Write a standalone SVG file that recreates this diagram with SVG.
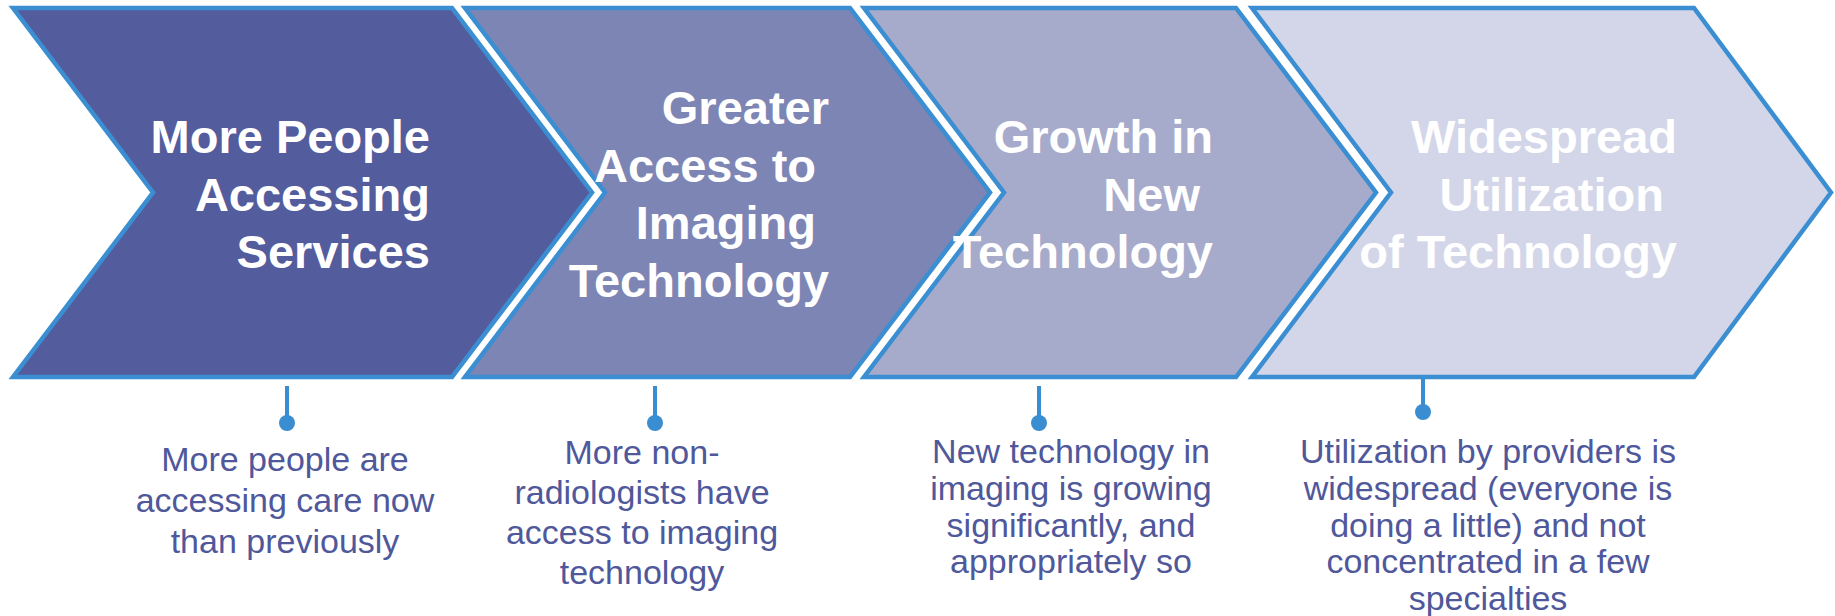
<svg xmlns="http://www.w3.org/2000/svg" width="1835" height="616" viewBox="0 0 1835 616">
<style>
.chev{stroke:#3a8ed1;stroke-width:4.5;stroke-linejoin:miter}
.title{font-family:"Liberation Sans",Arial,sans-serif;font-weight:bold;font-size:47px;fill:#ffffff;text-anchor:end}
.desc{font-family:"Liberation Sans",Arial,sans-serif;font-size:34px;fill:#4f589b;text-anchor:middle}
.conn line{stroke:#3a8dd0;stroke-width:4}
.conn circle{fill:#3a8dd0}
</style>
<rect width="1835" height="616" fill="#ffffff"/>
<g id="step1">
<polygon class="chev" fill="#535c9d" points="13,8 452,8 592,192.5 452,377 13,377 153,192.5"/>
<text class="title"><tspan x="430" y="153">More People</tspan><tspan x="430" y="211">Accessing</tspan><tspan x="430" y="268">Services</tspan></text>
</g>
<g id="step2">
<polygon class="chev" fill="#7d85b5" points="465,8 850,8 990,192.5 850,377 465,377 605,192.5"/>
<text class="title"><tspan x="829" y="124">Greater</tspan><tspan x="816" y="182">Access to</tspan><tspan x="816" y="239">Imaging</tspan><tspan x="829" y="297">Technology</tspan></text>
</g>
<g id="step3">
<polygon class="chev" fill="#a7abcb" points="864,8 1236,8 1376,192.5 1236,377 864,377 1004,192.5"/>
<text class="title"><tspan x="1213" y="153">Growth in</tspan><tspan x="1200" y="211">New</tspan><tspan x="1213" y="268">Technology</tspan></text>
</g>
<g id="step4">
<polygon class="chev" fill="#d3d6e8" points="1252,8 1694,8 1831,192.5 1694,377 1252,377 1391,192.5"/>
<text class="title"><tspan x="1677" y="153">Widespread</tspan><tspan x="1664" y="211">Utilization</tspan><tspan x="1677" y="268">of Technology</tspan></text>
</g>
<g id="connectors" class="conn">
<line x1="287" y1="386" x2="287" y2="423"/><circle cx="287" cy="423" r="8"/>
<line x1="655" y1="386" x2="655" y2="423"/><circle cx="655" cy="423" r="8"/>
<line x1="1039" y1="386" x2="1039" y2="423"/><circle cx="1039" cy="423" r="8"/>
<line x1="1423" y1="379" x2="1423" y2="412"/><circle cx="1423" cy="412" r="8"/>
</g>
<g id="desc1">
<text class="desc"><tspan x="285" y="471">More people are</tspan><tspan x="285" y="512">accessing care now</tspan><tspan x="285" y="553">than previously</tspan></text>
</g>
<g id="desc2">
<text class="desc"><tspan x="642" y="464">More non-</tspan><tspan x="642" y="504">radiologists have</tspan><tspan x="642" y="544">access to imaging</tspan><tspan x="642" y="584">technology</tspan></text>
</g>
<g id="desc3">
<text class="desc"><tspan x="1071" y="463">New technology in</tspan><tspan x="1071" y="500">imaging is growing</tspan><tspan x="1071" y="537">significantly, and</tspan><tspan x="1071" y="573">appropriately so</tspan></text>
</g>
<g id="desc4">
<text class="desc"><tspan x="1488" y="463">Utilization by providers is</tspan><tspan x="1488" y="500">widespread (everyone is</tspan><tspan x="1488" y="537">doing a little) and not</tspan><tspan x="1488" y="573">concentrated in a few</tspan><tspan x="1488" y="610">specialties</tspan></text>
</g>
</svg>
